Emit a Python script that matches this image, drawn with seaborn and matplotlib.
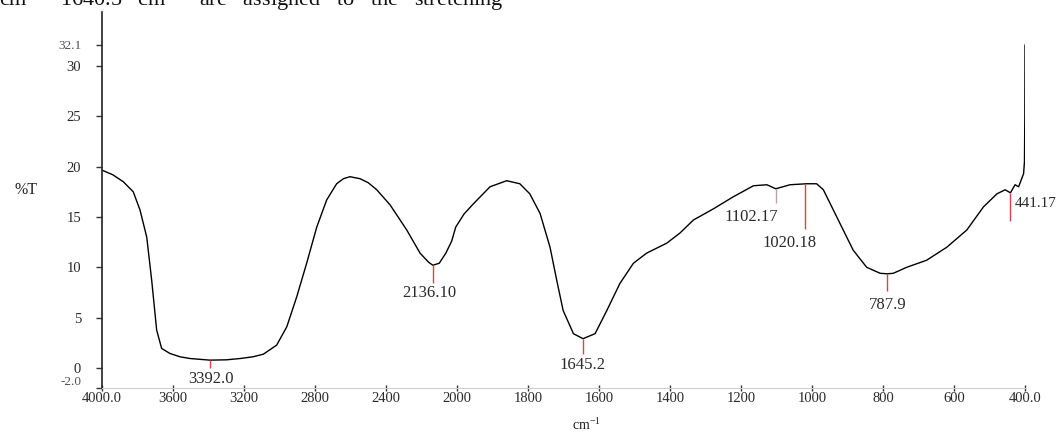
import numpy as np
import matplotlib
matplotlib.use("Agg")
import matplotlib.pyplot as plt
import seaborn as sns

# ---------------- data ----------------
wavenumber = [4000, 3940, 3880, 3824, 3786, 3748, 3720, 3692, 3664, 3617, 3560, 3504,
              3392, 3300, 3222, 3150, 3091, 3016, 2959, 2903, 2847, 2790, 2734, 2678,
              2640, 2603, 2546, 2500, 2452, 2377, 2283, 2208, 2160, 2136, 2100, 2063,
              2030, 2007, 1980, 1954, 1907, 1860, 1823, 1795, 1766, 1738, 1719, 1701,
              1672, 1645, 1611, 1578, 1541, 1503, 1466, 1409, 1372, 1334, 1278, 1222,
              1165, 1127, 1102, 1062, 1015, 987, 968, 940, 912, 884, 846, 808, 788,
              771, 733, 677, 620, 564, 517, 479, 456, 441, 428, 418, 404, 401.5, 400.5, 400]
transmittance = [19.65, 19.2, 18.5, 17.5, 15.7, 13.0, 8.7, 3.75, 1.93, 1.43, 1.1, 0.93,
                 0.77, 0.8, 0.93, 1.1, 1.36, 2.26, 4.08, 7.06, 10.4, 14.0, 16.7, 18.3,
                 18.8, 19.0, 18.8, 18.4, 17.7, 16.2, 13.7, 11.4, 10.5, 10.2, 10.4, 11.4,
                 12.6, 14.0, 15.3, 16.3, 18.0, 18.6, 18.3, 17.3, 15.35, 12.0, 8.7, 5.7,
                 3.4, 2.9, 3.4, 5.7, 8.4, 10.4, 11.4, 12.4, 13.4, 14.7, 15.8, 17.0,
                 18.1, 18.2, 17.8, 18.2, 18.3, 18.3, 17.7, 15.7, 13.7, 11.7, 10.0, 9.4, 9.35,
                 9.4, 10.0, 10.7, 12.0, 13.7, 16.0, 17.3, 17.7, 17.4, 18.2, 18.0, 19.3, 20.5, 25.0, 32.1]

peak_wn = [3392.0, 2136.10, 1645.2, 1102.17, 1020.18, 787.9, 441.17]
peak_labels = ["3392.0", "2136.10", "1645.2", "1102.17", "1020.18", "787.9", "441.17"]

x_ticks = [4000, 3600, 3200, 2800, 2400, 2000, 1800, 1600, 1400, 1200, 1000, 800, 600, 400]
x_ticklabels = ["4000.0", "3600", "3200", "2800", "2400", "2000", "1800", "1600",
                "1400", "1200", "1000", "800", "600", "400.0"]
y_ticks = [-2.0, 0, 5, 10, 15, 20, 25, 30, 32.1]
y_ticklabels = ["-2.0", "0", "5", "10", "15", "20", "25", "30", "32.1"]

# ---------------- styles ----------------
marker_len = [0.8, 1.8, 1.5, 1.4, 4.5, 1.7, 2.8]
marker_col = ["#e0404c", "#e0404c", "#e0404c", "#b9a3a6", "#e0404c", "#e0404c", "#e0404c"]
label_dx = [1, -4, 0, -24, -15, 0, 4]       # pixels
label_dy = [-3, -2, -3, -6, -6, -6, 0]     # pixels (relative to marker bottom)
label_ha = ["center", "center", "center", "center", "center", "center", "left"]
label_va = ["top", "top", "top", "top", "top", "top", "center"]
label_fs = [12, 12, 12, 12, 12, 12, 11]

sns.set_theme(style="white")
plt.rcParams["font.family"] = ["Liberation Serif", "DejaVu Serif"]
plt.rcParams["mathtext.fontset"] = "custom"
plt.rcParams["mathtext.rm"] = "Liberation Serif"
plt.rcParams["mathtext.default"] = "regular"

W, H = 1060, 434
fig = plt.figure(figsize=(W / 100, H / 100), dpi=100)
ax = fig.add_axes([102 / W, (H - 388) / H, 923 / W, (388 - 12) / H])


def fwd(x):
    x = np.asarray(x, dtype=float)
    return np.where(x > 2000, 2000 + (x - 2000) / 2.0, x)


def inv(y):
    y = np.asarray(y, dtype=float)
    return np.where(y > 2000, 2000 + (y - 2000) * 2.0, y)


ax.set_xscale("function", functions=(fwd, inv))

sns.lineplot(x=wavenumber, y=transmittance, sort=False, estimator=None,
             color="black", lw=1.0, ax=ax)

ax.set_xlim(4000, 400)
ax.set_ylim(-2.0, 35.37)

# peak markers and labels
wn_sorted = np.array(wavenumber[::-1], dtype=float)
t_sorted = np.array(transmittance[::-1], dtype=float)
for i, (pw, lab) in enumerate(zip(peak_wn, peak_labels)):
    top = float(np.interp(pw, wn_sorted, t_sorted))
    bottom = top - marker_len[i]
    ax.vlines(pw, bottom, top, color=marker_col[i], lw=1.0, zorder=3)
    if label_va[i] == "center":
        ypos = (top + bottom) / 2 + 0.3
    else:
        ypos = bottom
    ax.annotate(lab, xy=(pw, ypos), xytext=(label_dx[i], label_dy[i]),
                textcoords="offset pixels", ha=label_ha[i], va=label_va[i],
                fontsize=label_fs[i], color="#2a2a2a")

# axes styling
for s in ["top", "right"]:
    ax.spines[s].set_visible(False)
ax.spines["left"].set_color("#222222")
ax.spines["left"].set_linewidth(1.2)
ax.spines["bottom"].set_color("#cfcfcf")
ax.spines["bottom"].set_linewidth(0.8)

ax.set_xticks(x_ticks)
ax.set_xticklabels(x_ticklabels)
ax.set_yticks(y_ticks)
ax.set_yticklabels(y_ticklabels)
ax.xaxis.set_minor_locator(matplotlib.ticker.NullLocator())
ax.tick_params(axis="x", direction="inout", length=4, width=1.0, color="#333333",
               pad=1, labelsize=10.5, labelcolor="#2a2a2a", bottom=True)
ax.tick_params(axis="y", direction="out", length=4, width=1.0, color="#333333",
               pad=11, labelsize=10.5, labelcolor="#2a2a2a", left=True)
for lbl in ax.get_yticklabels():
    if lbl.get_text() in ("32.1", "-2.0"):
        lbl.set_color("#4a5260")
        lbl.set_fontsize(9.5)
    if lbl.get_text() == "-2.0":
        lbl.set_va("bottom")
ax.set_xlabel("")
ax.set_ylabel("")
ax.grid(False)

# axis titles and surrounding text
fig.text(26 / W, 1 - 190 / H, "%T", ha="center", va="center", fontsize=11.5, color="#222222")
fig.text(586 / W, 1 - 433 / H, "cm$^{-1}$", ha="center", va="bottom", fontsize=10, color="#222222")
fig.text(-0.001, 1 - 6 / H,
         "cm$^{-1}$   1640.5   cm$^{-1}$   are   assigned   to   the   stretching",
         ha="left", va="baseline", fontsize=16, color="#111111")

fig.savefig("out.png", dpi=100, facecolor="white")
